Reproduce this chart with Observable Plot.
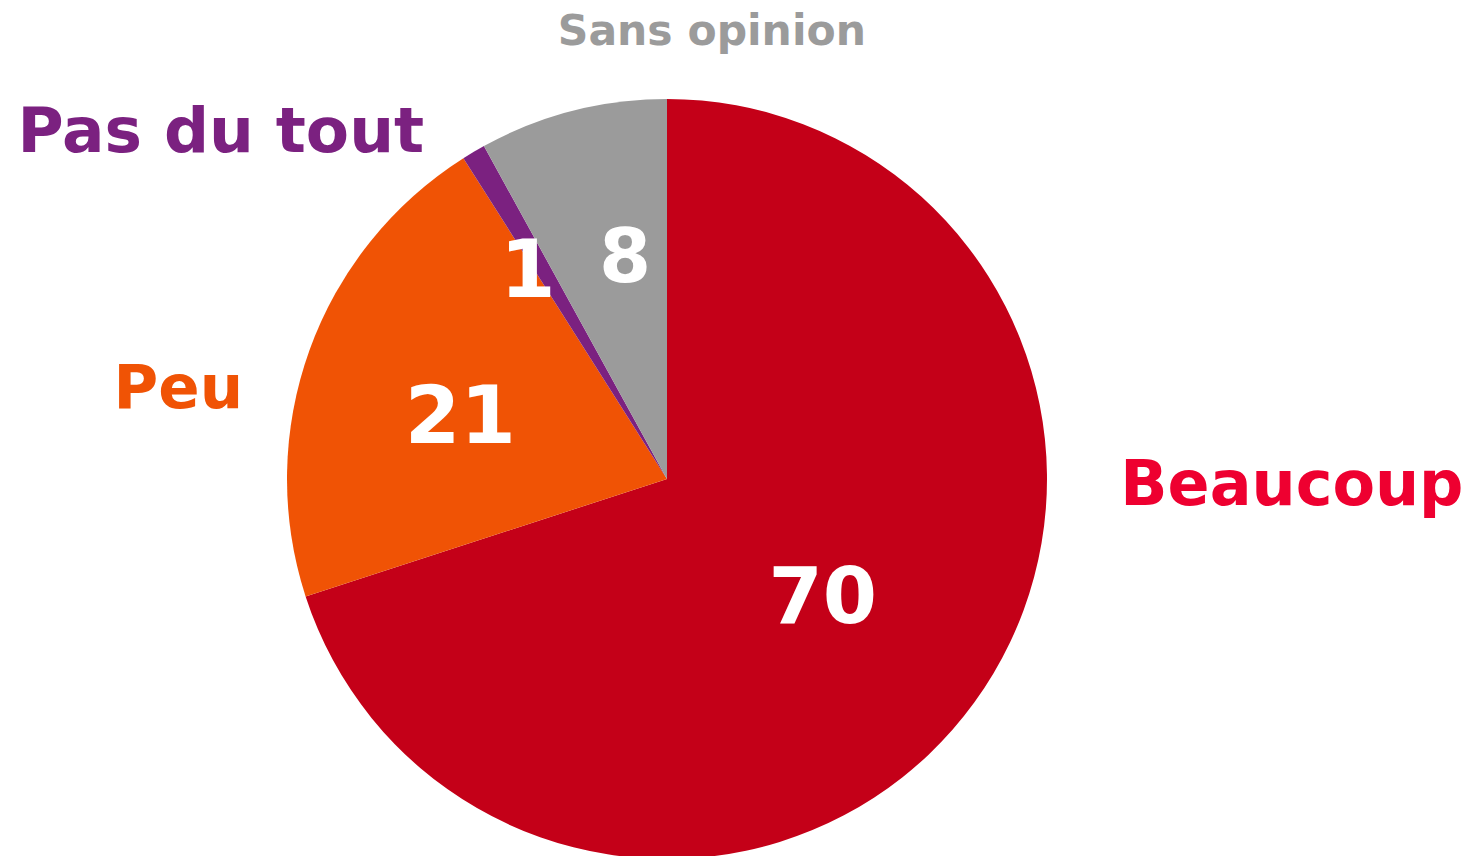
<!DOCTYPE html>
<html>
<head>
<meta charset="utf-8">
<script src="https://cdn.jsdelivr.net/npm/d3@7"></script>
<script src="https://cdn.jsdelivr.net/npm/@observablehq/plot@0.6"></script>
<style>
  html, body { margin: 0; padding: 0; background: #fff; }
  #chart { width: 1475px; height: 856px; overflow: hidden; }
</style>
</head>
<body>
<div id="chart"></div>
<script>
// ---- data ----
const categories = ["Beaucoup", "Peu", "Pas du tout", "Sans opinion"];
const values = [70, 21, 1, 8];

// ---- styles ----
const sliceColors = ["#C40018", "#F05305", "#7B2180", "#9B9B9B"];
const labelColors = ["#EE0030", "#F05305", "#7B2180", "#9B9B9B"];
const fontFamily = "'DejaVu Sans', Verdana, sans-serif";
// layout (angle in degrees clockwise from 12 o'clock, radius as fraction of pie radius)
const layout = {
  center: [667, 479], radius: 380,
  valueLabel: {
    "Beaucoup": {a: 126.5, r: 0.51, size: 78},
    "Peu": {a: 287.4, r: 0.57, size: 80},
    "Pas du tout": {a: 326.6, r: 0.665, size: 80},
    "Sans opinion": {a: 349.4, r: 0.60, size: 75}
  },
  nameLabel: {
    "Beaucoup": {a: 93.3, r: 1.195, anchor: "start", size: 62},
    "Peu": {a: 279.5, r: 1.131, anchor: "end", size: 61},
    "Pas du tout": {a: 323.4, r: 1.072, anchor: "end", size: 63},
    "Sans opinion": {a: 5.9, r: 1.148, anchor: "middle", size: 42.5}
  }
};

const data = categories.map((c, i) => ({label: c, value: values[i]}));

function pieRender(index, scales, channels, dimensions, context) {
  const [cx, cy] = layout.center;
  const R = layout.radius;
  const items = Array.from(index, i => ({...data[i], fill: channels.fill[i]}));
  const arcs = d3.pie().value(d => d.value).sort(null)(items);
  const arc = d3.arc().innerRadius(0).outerRadius(R);
  const g = d3.create("svg:g").attr("transform", `translate(${cx},${cy})`);
  const polar = (a, r) => {
    const t = a * Math.PI / 180;
    return [r * R * Math.sin(t), -r * R * Math.cos(t)];
  };
  g.selectAll("path.slice")
    .data(arcs)
    .join("path")
    .attr("class", "slice")
    .attr("d", arc)
    .attr("fill", d => d.data.fill);
  // value labels
  g.selectAll("text.val")
    .data(arcs)
    .join("text")
    .attr("class", "val")
    .attr("transform", d => {
      const L = layout.valueLabel[d.data.label];
      const [x, y] = polar(L.a, L.r);
      return `translate(${x},${y})`;
    })
    .attr("text-anchor", "middle")
    .attr("dy", "0.365em")
    .attr("font-family", fontFamily)
    .attr("font-weight", "bold")
    .attr("font-size", d => layout.valueLabel[d.data.label].size)
    .attr("fill", "#FFFFFF")
    .text(d => d.data.value);
  // category labels
  g.selectAll("text.name")
    .data(arcs)
    .join("text")
    .attr("class", "name")
    .attr("transform", d => {
      const L = layout.nameLabel[d.data.label];
      const [x, y] = polar(L.a, L.r);
      return `translate(${x},${y})`;
    })
    .attr("text-anchor", d => layout.nameLabel[d.data.label].anchor)
    .attr("font-family", fontFamily)
    .attr("font-weight", "bold")
    .attr("font-size", d => layout.nameLabel[d.data.label].size)
    .attr("fill", d => labelColors[categories.indexOf(d.data.label)])
    .text(d => d.data.label);
  return g.node();
}

const chart = Plot.plot({
  width: 1475,
  height: 856,
  margin: 0,
  style: {background: "#fff", overflow: "visible"},
  x: {axis: null},
  y: {axis: null},
  color: {type: "ordinal", domain: categories, range: sliceColors},
  marks: [
    Plot.dot(data, {x: "value", y: "value", fill: "label", render: pieRender})
  ]
});
document.getElementById("chart").appendChild(chart);
</script>
</body>
</html>
